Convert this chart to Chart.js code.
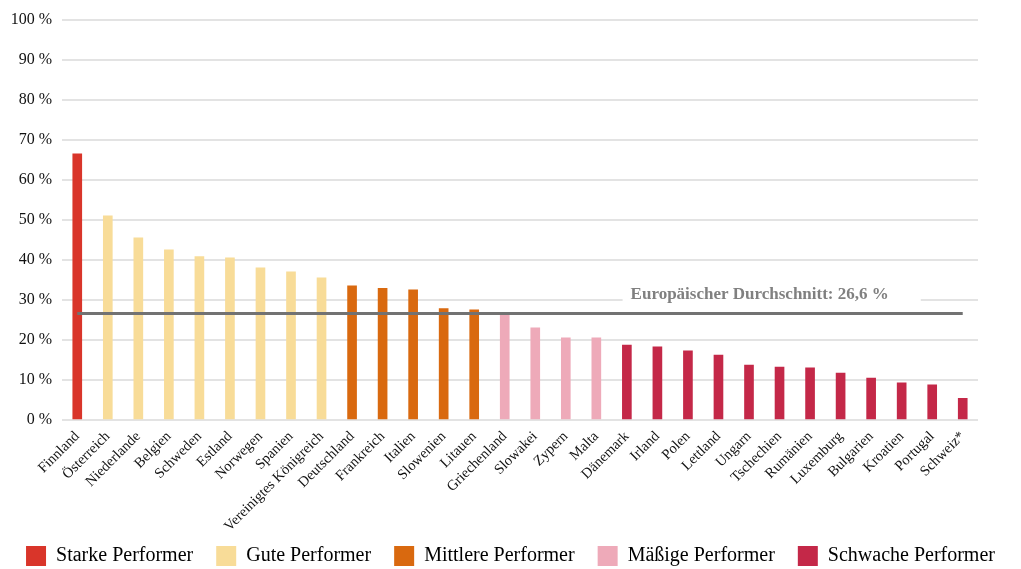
<!DOCTYPE html>
<html>
<head>
<meta charset="utf-8">
<script src="https://cdn.jsdelivr.net/npm/chart.js@4/dist/chart.umd.min.js"></script>
<style>
  html, body { margin: 0; padding: 0; background: #fff; }
  #wrap { width: 1021px; height: 569px; position: relative; }
</style>
</head>
<body>
<div id="wrap"><canvas id="chart"></canvas></div>
<script>
// Share per country, sorted high to low
const countries = [
  "Finnland", "Österreich", "Niederlande", "Belgien", "Schweden", "Estland",
  "Norwegen", "Spanien", "Vereinigtes Königreich", "Deutschland", "Frankreich",
  "Italien", "Slowenien", "Litauen", "Griechenland", "Slowakei", "Zypern",
  "Malta", "Dänemark", "Irland", "Polen", "Lettland", "Ungarn", "Tschechien",
  "Rumänien", "Luxemburg", "Bulgarien", "Kroatien", "Portugal", "Schweiz*"
];
const values = [
  66.5, 51, 45.5, 42.5, 40.8, 40.5,
  38, 37, 35.5, 33.5, 32.9,
  32.5, 27.8, 27.5, 26.7, 23, 20.5,
  20.5, 18.7, 18.3, 17.3, 16.2, 13.7, 13.2,
  13, 11.7, 10.5, 9.3, 8.8, 5.4
];
// performer group index per country (0 = Starke ... 4 = Schwache)
const groupOf = [
  0, 1, 1, 1, 1, 1,
  1, 1, 1, 2, 2,
  2, 2, 2, 3, 3, 3,
  3, 4, 4, 4, 4, 4, 4,
  4, 4, 4, 4, 4, 4
];
const groupNames = ["Starke Performer", "Gute Performer", "Mittlere Performer", "Mäßige Performer", "Schwache Performer"];
const groupColors = ["#d9352a", "#f8dc98", "#d9690f", "#eeaab9", "#c42848"];
const europeAvg = 26.6;
const avgLabel = "Europäischer Durchschnitt: 26,6 %";
const yTicks = [0, 10, 20, 30, 40, 50, 60, 70, 80, 90, 100];

const serif = "'Liberation Serif', 'DejaVu Serif', serif";

const avgLabelPlugin = {
  id: "avgLabel",
  beforeLayout(chart) {
    // keep the legend short so the plot gets the room
    const lg = chart.legend;
    if (lg && !lg._short) {
      const fit = lg.fit;
      lg.fit = function () { fit.call(this); this.height = 46; };
      lg._short = true;
    }
  },
  // label of the average line, white box behind it
  afterDatasetsDraw(chart) {
    const { ctx, scales } = chart;
    const x = scales.x.getPixelForValue(22.35);
    const y = scales.y.getPixelForValue(31.4);
    ctx.save();
    ctx.font = "bold 17px " + serif;
    const w = ctx.measureText(avgLabel).width;
    ctx.fillStyle = "#fff";
    ctx.fillRect(x - w / 2 - 8, y - 10, w + 40, 18);
    ctx.fillStyle = "#808080";
    ctx.textAlign = "center";
    ctx.textBaseline = "middle";
    ctx.fillText(avgLabel, x, y);
    ctx.restore();
  }
};

new Chart(document.getElementById("chart"), {
  data: {
    labels: countries,
    datasets: [
      {
        type: "line",
        data: countries.map(() => europeAvg),
        borderColor: "#727272",
        borderWidth: 3,
        pointRadius: 0,
        fill: false,
        order: 0
      },
      {
        type: "bar",
        data: values,
        backgroundColor: groupOf.map(g => groupColors[g]),
        barThickness: 9,
        order: 1
      }
    ]
  },
  options: {
    responsive: true,
    maintainAspectRatio: false,
    animation: false,
    layout: { padding: { top: 17, right: 0, left: 0, bottom: 0 } },
    plugins: {
      tooltip: { enabled: false },
      legend: {
        position: "bottom",
        labels: {
          boxWidth: 20,
          boxHeight: 20,
          padding: 23,
          color: "#111",
          font: { family: serif, size: 20 },
          generateLabels: () => groupNames.map((name, i) => ({
            text: name,
            fillStyle: groupColors[i],
            strokeStyle: groupColors[i],
            lineWidth: 0
          }))
        }
      }
    },
    scales: {
      x: {
        offset: true,
        grid: { display: false },
        border: { display: false },
        afterFit: axis => {
          axis.height = 103;
          // long rotated labels may run below the axis box
          axis._computeLabelArea = () => null;
        },
        ticks: {
          autoSkip: false,
          maxRotation: 45,
          minRotation: 45,
          padding: 0,
          color: "#111",
          font: { family: serif, size: 14.5 }
        }
      },
      y: {
        min: 0,
        max: 100,
        afterBuildTicks: axis => { axis.ticks = yTicks.map(v => ({ value: v })); },
        afterFit: axis => { axis.width = 62; },
        grid: { color: "#e3e3e3", lineWidth: 2, drawTicks: false },
        border: { display: false },
        ticks: {
          padding: 10,
          color: "#111",
          font: { family: serif, size: 16 },
          callback: v => v + " %"
        }
      },
      // empty axis on the right, only keeps the gap after the plot
      gap: {
        type: "linear",
        position: "right",
        grid: { display: false },
        border: { display: false },
        ticks: { display: false },
        afterFit: axis => { axis.width = 43; }
      }
    }
  },
  plugins: [avgLabelPlugin]
});
</script>
</body>
</html>
